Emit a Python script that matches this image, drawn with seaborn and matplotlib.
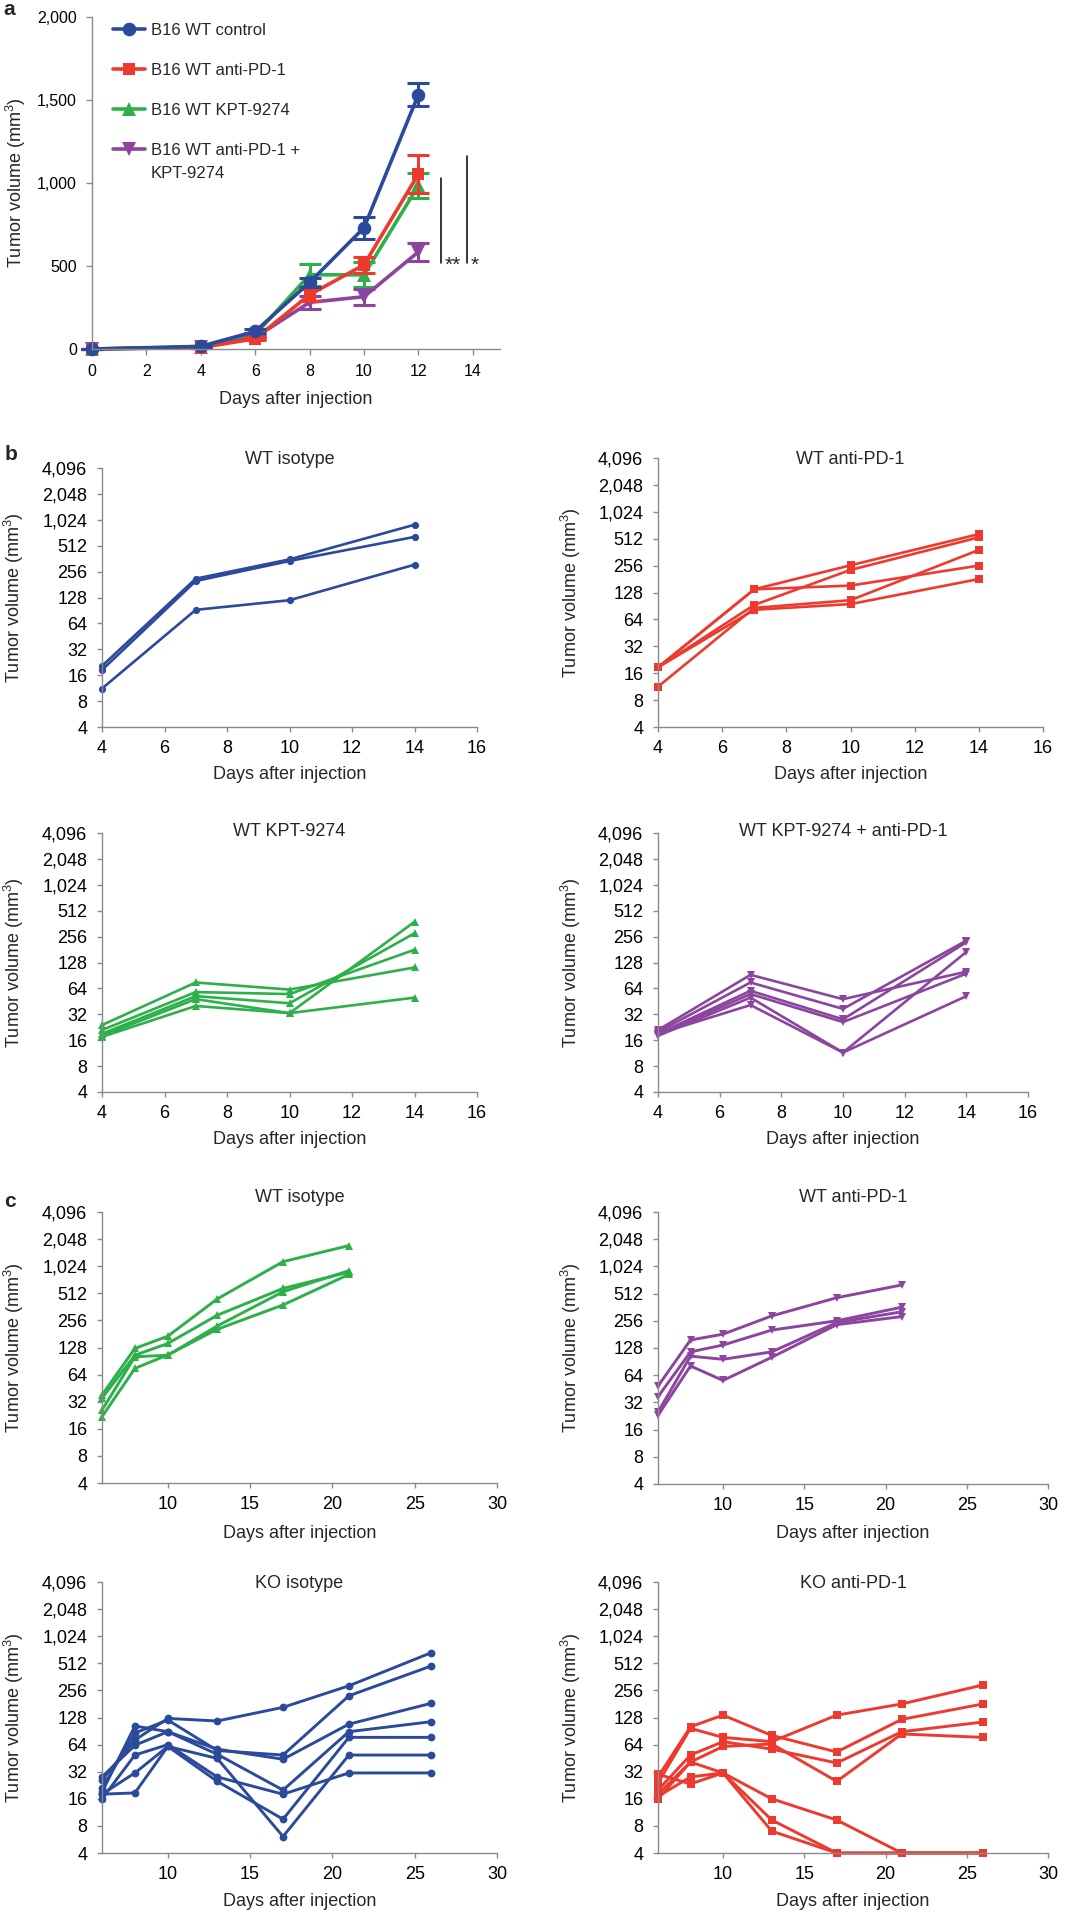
import numpy as np
import pandas as pd
import matplotlib
matplotlib.use("Agg")
import matplotlib.pyplot as plt
import seaborn as sns
from matplotlib.ticker import FixedLocator, FixedFormatter, NullLocator
from matplotlib.transforms import IdentityTransform

sns.set_theme(style="ticks")
plt.rcParams["font.family"] = ["Liberation Sans", "DejaVu Sans"]
plt.rcParams["mathtext.fontset"] = "custom"
plt.rcParams["mathtext.rm"] = "Liberation Sans"
plt.rcParams["mathtext.it"] = "Liberation Sans:italic"
plt.rcParams["mathtext.bf"] = "Liberation Sans:bold"

BLUE = "#2B4A9C"
RED = "#EE3A2E"
GREEN = "#2DB04A"
PURPLE = "#8C459E"
SPINE = "#8a8a8a"

# ---------------- Panel a data ----------------
a_days = [0, 4, 6, 8, 10, 12]
a_labels = ["B16 WT control", "B16 WT anti-PD-1", "B16 WT KPT-9274", "B16 WT anti-PD-1 +"]
a_label_extra = "KPT-9274"
a_control = [0, 16, 106, 401, 731, 1533]
a_control_sem = [2, 5, 12, 25, 67, 70]
a_antipd1 = [0, 8, 62, 327, 507, 1054]
a_antipd1_sem = [2, 4, 10, 35, 50, 112]
a_kpt = [0, 12, 86, 447, 447, 985]
a_kpt_sem = [2, 4, 10, 68, 75, 78]
a_combo = [0, 10, 70, 281, 315, 585]
a_combo_sem = [2, 4, 8, 40, 47, 55]
a_xticks = [0, 2, 4, 6, 8, 10, 12, 14]
a_yticks = [0, 500, 1000, 1500, 2000]
sig_x = [12.82, 13.78]
sig_low = [518, 518]
sig_high = [1030, 1163]
sig_text = ["**", "*"]

# ---------------- Panel b data ----------------
b_days = [4, 7, 10, 14]
b_wt_iso = [[20.5, 212, 355, 897], [18.4, 199, 340, 648], [11.2, 92, 119, 308]]
b_wt_pd1 = [[18.6, 139, 258, 576], [18.6, 139, 153, 256], [18.6, 93, 229, 530],
            [11.3, 86, 105, 383], [18.6, 82, 95, 181]]
b_wt_kpt = [[24, 75, 62, 112], [21, 58, 55, 180], [19, 52, 43, 280],
            [18, 48, 33, 380], [17.5, 40, 33, 50]]
b_wt_combo = [[21, 92, 48, 100], [20, 75, 37, 230], [19, 60, 28, 220],
              [18.5, 55, 26, 95], [18, 50, 11.5, 170], [19, 41, 11.5, 52]]
b_xticks = [4, 6, 8, 10, 12, 14, 16]

# ---------------- Panel c data ----------------
c_days_wt = [6, 8, 10, 13, 17, 21]
c_wt_iso = [[38, 125, 171, 443, 1150, 1734], [35, 105, 142, 292, 580, 880],
            [25.8, 101, 105, 222, 533, 912], [21.8, 75, 106, 204, 380, 830]]
c_wt_pd1 = [[48.5, 157, 182, 290, 461, 638], [37, 116, 138, 202, 256, 362],
            [25, 104, 96, 116, 245, 322], [23, 81, 56, 101, 232, 285]]
c_days_ko = [6, 8, 10, 13, 17, 21, 26]
c_ko_iso = [[26, 72, 125, 117, 166, 288, 671], [21, 86, 120, 55, 49, 223, 478],
            [19, 103, 89, 57, 44, 108, 184], [28, 63, 89, 50, 20, 89, 115],
            [16, 49, 64, 28, 18, 31, 31], [18, 31, 61, 25, 9.5, 77, 77],
            [18, 18.6, 61, 45, 6.1, 49, 49]]
c_ko_pd1 = [[28, 101, 136, 81, 53, 122, 181], [24, 97, 77, 69, 136, 181, 294],
            [20, 49, 69, 57, 40, 89, 114], [18, 41, 61, 65, 25, 84, 77],
            [16, 41, 31, 16, 9.3, 4, 4], [17, 28, 31, 9.3, 4, 4, 4],
            [30, 23.4, 31, 7, 4, 4, 4]]
c_xticks = [10, 15, 20, 25, 30]

log_ticks = [4, 8, 16, 32, 64, 128, 256, 512, 1024, 2048, 4096]
log_labels = [f"{v:,}" for v in log_ticks]

YLABEL = "Tumor volume (mm$^{3}$)"
XLABEL = "Days after injection"

W, H = 1086, 1920
fig = plt.figure(figsize=(W / 100, H / 100), dpi=100)


def add_ax(box):
    l, t, r, b = box
    return fig.add_axes([l / W, 1 - b / H, (r - l) / W, (b - t) / H])


def style_axes(ax, box, ylab_right, xlab_center, fs_tick=13, xpad=5.8, ypad=7.0, tlen=3.6):
    l, t, r, b = box
    w, h = r - l, b - t
    sns.despine(ax=ax)
    for s in ["left", "bottom"]:
        ax.spines[s].set_color(SPINE)
        ax.spines[s].set_linewidth(1.0)
    ax.tick_params(axis="both", color=SPINE, width=1.0, length=tlen, labelsize=fs_tick,
                   labelcolor="black")
    ax.tick_params(axis="x", pad=xpad)
    ax.tick_params(axis="y", pad=ypad)
    ax.set_ylabel(YLABEL, fontsize=13)
    ax.set_xlabel(XLABEL, fontsize=13)
    ax.yaxis.set_label_coords((ylab_right - l) / w, 0.5)
    ax.xaxis.set_label_coords(0.5, -(xlab_center - 11.8 - b) / h)


def spaghetti(ax, box, days, mice, color, marker, ms, lw, xlim, xticks, title,
              title_y, ylab_right, xlab_center):
    rows = []
    for i, vals in enumerate(mice):
        for d, v in zip(days, vals):
            rows.append((i, d, v))
    df = pd.DataFrame(rows, columns=["mouse", "day", "vol"])
    sns.lineplot(data=df, x="day", y="vol", units="mouse", estimator=None, color=color,
                 marker=marker, markersize=ms, markeredgewidth=0, linewidth=lw,
                 ax=ax, clip_on=False, legend=False)
    ax.set_yscale("log", base=2)
    ax.set_ylim(4, 4096)
    ax.set_xlim(*xlim)
    ax.yaxis.set_major_locator(FixedLocator(log_ticks))
    ax.yaxis.set_major_formatter(FixedFormatter(log_labels))
    ax.yaxis.set_minor_locator(NullLocator())
    ax.set_xticks(xticks)
    ax.set_xticklabels([str(x) for x in xticks])
    style_axes(ax, box, ylab_right, xlab_center)
    l, t, r, b = box
    ax.text(0.5, (b - title_y) / (b - t), title, transform=ax.transAxes,
            ha="center", va="center", fontsize=13)


# ---------------- Panel a ----------------
box_a = (92, 17, 500, 349)
ax = add_ax(box_a)
groups = [
    (a_kpt, a_kpt_sem, GREEN, "^", 10.5, a_labels[2]),
    (a_combo, a_combo_sem, PURPLE, "v", 10.5, a_labels[3]),
    (a_antipd1, a_antipd1_sem, RED, "s", 9.0, a_labels[1]),
    (a_control, a_control_sem, BLUE, "o", 9.8, a_labels[0]),
]
for vals, sem, col, mk, ms, lab in groups:
    df = pd.DataFrame({"day": a_days, "vol": vals})
    sns.lineplot(data=df, x="day", y="vol", color=col, marker=mk, markersize=ms,
                 markeredgewidth=0, linewidth=2.6, errorbar=None, ax=ax, label=lab,
                 clip_on=False)
    ax.errorbar(a_days, vals, yerr=sem, fmt="none", ecolor=col, elinewidth=2.2,
                capsize=8, capthick=2.2, clip_on=False)
ax.set_xlim(0, 15)
ax.set_ylim(0, 2000)
ax.set_xticks(a_xticks)
ax.set_yticks(a_yticks)
ax.set_yticklabels([f"{v:,}" for v in a_yticks])
style_axes(ax, box_a, 28, 403, fs_tick=11.5, xpad=6.5, ypad=6.5, tlen=4.3)
for x, lo, hi, s in zip(sig_x, sig_low, sig_high, sig_text):
    ax.plot([x, x], [lo, hi], color="black", lw=1.1)
    ax.text(x + 0.15, 470, s, ha="left", va="baseline", fontsize=15)

handles, labels = ax.get_legend_handles_labels()
order = [labels.index(l) for l in a_labels]
leg = ax.legend([handles[i] for i in order], [labels[i] for i in order],
                loc="upper left", bbox_to_anchor=(0.0515, 0.982), frameon=False,
                handlelength=1.9, handletextpad=0.35, labelspacing=1.5,
                borderpad=0, borderaxespad=0, fontsize=12)

# ---------------- Panel b ----------------
spaghetti(add_ax((102, 468, 477, 727)), (102, 468, 477, 727), b_days, b_wt_iso, BLUE, "o",
          5.2, 1.9, (4, 16), b_xticks, "WT isotype", 460, 26, 778)
spaghetti(add_ax((658, 458, 1043, 727)), (658, 458, 1043, 727), b_days, b_wt_pd1, RED, "s",
          5.4, 1.9, (4, 16), b_xticks, "WT anti-PD-1", 460, 583, 778)
spaghetti(add_ax((102, 833, 477, 1092)), (102, 833, 477, 1092), b_days, b_wt_kpt, GREEN, "^",
          6.0, 1.9, (4, 16), b_xticks, "WT KPT-9274", 832, 26, 1143)
spaghetti(add_ax((658, 833, 1028, 1092)), (658, 833, 1028, 1092), b_days, b_wt_combo, PURPLE,
          "v", 6.0, 1.9, (4, 16), b_xticks, "WT KPT-9274 + anti-PD-1", 832, 583, 1143)

# ---------------- Panel c ----------------
spaghetti(add_ax((102, 1212, 497, 1483)), (102, 1212, 497, 1483), c_days_wt, c_wt_iso, GREEN,
          "^", 6.0, 2.1, (6, 30), c_xticks, "WT isotype", 1198, 26, 1537)
spaghetti(add_ax((658, 1212, 1048, 1484)), (658, 1212, 1048, 1484), c_days_wt, c_wt_pd1,
          PURPLE, "v", 6.0, 2.1, (6, 30), c_xticks, "WT anti-PD-1", 1197, 583, 1537)
spaghetti(add_ax((102, 1582, 497, 1853)), (102, 1582, 497, 1853), c_days_ko, c_ko_iso, BLUE,
          "o", 5.6, 2.1, (6, 30), c_xticks, "KO isotype", 1583, 26, 1905)
spaghetti(add_ax((658, 1582, 1048, 1853)), (658, 1582, 1048, 1853), c_days_ko, c_ko_pd1, RED,
          "s", 5.8, 2.1, (6, 30), c_xticks, "KO anti-PD-1", 1583, 583, 1905)

# panel letters
for letter, x, yb in [("a", 3, 15), ("b", 5, 460), ("c", 4, 1207)]:
    fig.text(x / W, 1 - yb / H, letter, fontsize=15, fontweight="bold",
             ha="left", va="baseline")

# second line of the 4th legend label
fig.canvas.draw()
bb = leg.get_texts()[3].get_window_extent()
fig.text(bb.x0, bb.y0 + 3.5 - 23.3, a_label_extra, transform=IdentityTransform(),
         fontsize=12, ha="left", va="baseline")

fig.savefig("out.png", dpi=100)
